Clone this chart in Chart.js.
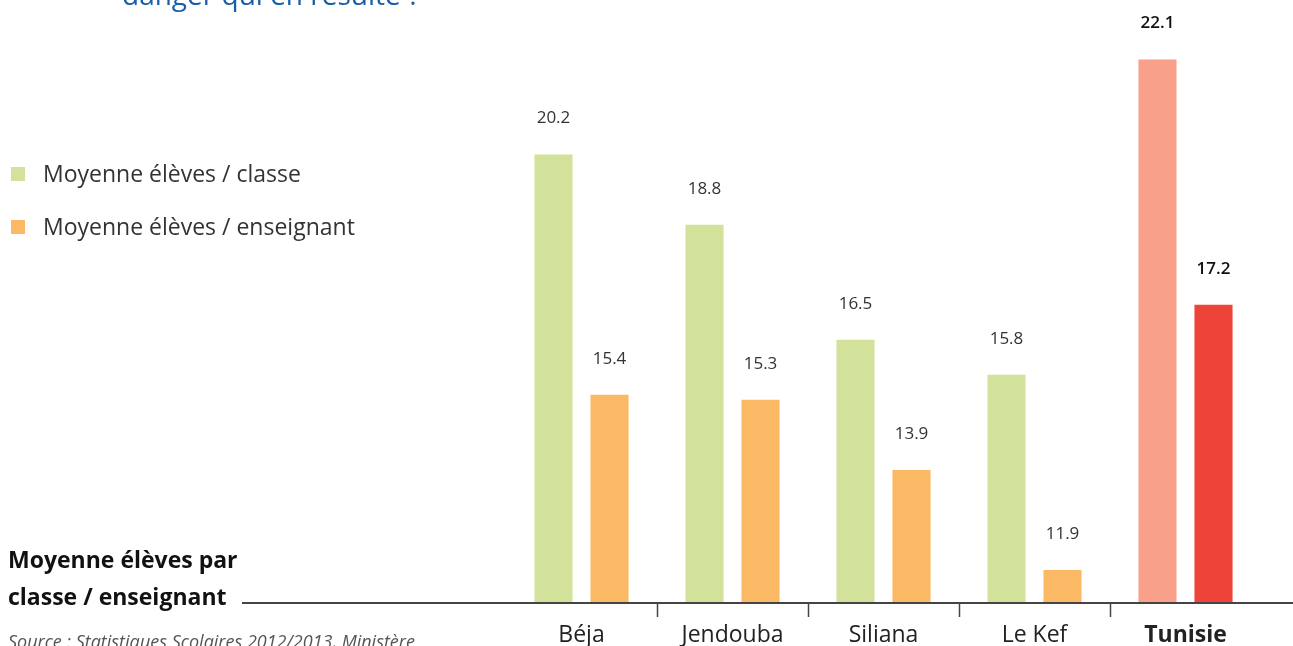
<!DOCTYPE html>
<html>
<head>
<meta charset="utf-8">
<script src="https://cdn.jsdelivr.net/npm/chart.js@4"></script>
<style>
  html, body { margin: 0; padding: 0; background: #fff; }
  body { width: 1293px; height: 646px; position: relative; overflow: hidden; font-family: "Open Sans", sans-serif; }
  #wrap { position: absolute; left: 0; top: 0; width: 1293px; height: 646px; }
  .title { position: absolute; left: 122px; top: -25px; font-size: 28px; color: #1a5ea8; white-space: nowrap; }
  .leg { position: absolute; left: 11px; font-size: 23px; color: #333; white-space: nowrap; }
  .leg span { display: inline-block; width: 14px; height: 14px; margin-right: 18px; vertical-align: 1px; }
  .ylab { position: absolute; left: 8px; font-size: 23px; font-weight: 700; color: #111; white-space: nowrap; }
  .src { position: absolute; left: 8px; top: 629px; font-size: 18px; font-style: italic; color: #555; white-space: nowrap; }
</style>
</head>
<body>
<div id="wrap"><canvas id="chart" width="1293" height="646"></canvas></div>
<div class="title">danger qui en résulte ?</div>
<div class="leg" style="top:157px"><span style="background:#d3e29b"></span>Moyenne élèves / classe</div>
<div class="leg" style="top:210px"><span style="background:#fbb966"></span>Moyenne élèves / enseignant</div>
<div class="ylab" style="top:543px">Moyenne élèves par</div>
<div class="ylab" style="top:580px">classe / enseignant</div>
<div class="src">Source : Statistiques Scolaires 2012/2013, Ministère</div>
<script>
const regions = ['Béja', 'Jendouba', 'Siliana', 'Le Kef', 'Tunisie'];
const perClass = [20.2, 18.8, 16.5, 15.8, 22.1];
const perTeacher = [15.4, 15.3, 13.9, 11.9, 17.2];

const classColors = ['#d3e29b', '#d3e29b', '#d3e29b', '#d3e29b', '#f8a08a'];
const teacherColors = ['#fbb966', '#fbb966', '#fbb966', '#fbb966', '#ee4338'];

// axis line, separators and value labels
const decor = {
  id: 'decor',
  afterDatasetsDraw(chart) {
    const ctx = chart.ctx;
    const x = chart.scales.x;
    const bottom = chart.chartArea.bottom;
    ctx.save();
    ctx.strokeStyle = '#444';
    ctx.lineWidth = 2;
    ctx.beginPath();
    ctx.moveTo(242, bottom);
    ctx.lineTo(1293, bottom);
    ctx.stroke();
    ctx.lineWidth = 1.5;
    for (let i = 0; i < regions.length - 1; i++) {
      const px = Math.round((x.getPixelForValue(i) + x.getPixelForValue(i + 1)) / 2) + 0.5;
      ctx.beginPath();
      ctx.moveTo(px, bottom);
      ctx.lineTo(px, bottom + 14);
      ctx.stroke();
    }
    ctx.textAlign = 'center';
    ctx.textBaseline = 'middle';
    chart.data.datasets.forEach((ds, di) => {
      chart.getDatasetMeta(di).data.forEach((bar, i) => {
        const last = i === regions.length - 1;
        ctx.font = (last ? '600 ' : '') + '17px "Open Sans"';
        ctx.fillStyle = last ? '#111' : '#333';
        ctx.fillText(ds.data[i].toFixed(1), bar.x, bar.y - 36);
      });
    });
    ctx.restore();
  }
};

new Chart(document.getElementById('chart'), {
  type: 'bar',
  data: {
    labels: regions,
    datasets: [
      { label: 'Moyenne élèves / classe', data: perClass, backgroundColor: classColors },
      { label: 'Moyenne élèves / enseignant', data: perTeacher, backgroundColor: teacherColors }
    ]
  },
  options: {
    responsive: false,
    animation: false,
    categoryPercentage: 0.742,
    barPercentage: 0.68,
    layout: { padding: { left: 506, right: 32, top: 37, bottom: 0 } },
    plugins: { legend: { display: false }, tooltip: { enabled: false } },
    scales: {
      x: {
        afterFit(scale) { scale.height = 43; },
        grid: { display: false, drawTicks: false },
        border: { display: false },
        ticks: {
          padding: 19,
          color: '#222',
          font: ctx => ({ family: 'Open Sans', size: 23, weight: ctx.index === 4 ? '700' : '400' })
        }
      },
      y: { display: false, min: 11.24, max: 22.55 }
    }
  },
  plugins: [decor]
});
</script>
</body>
</html>
